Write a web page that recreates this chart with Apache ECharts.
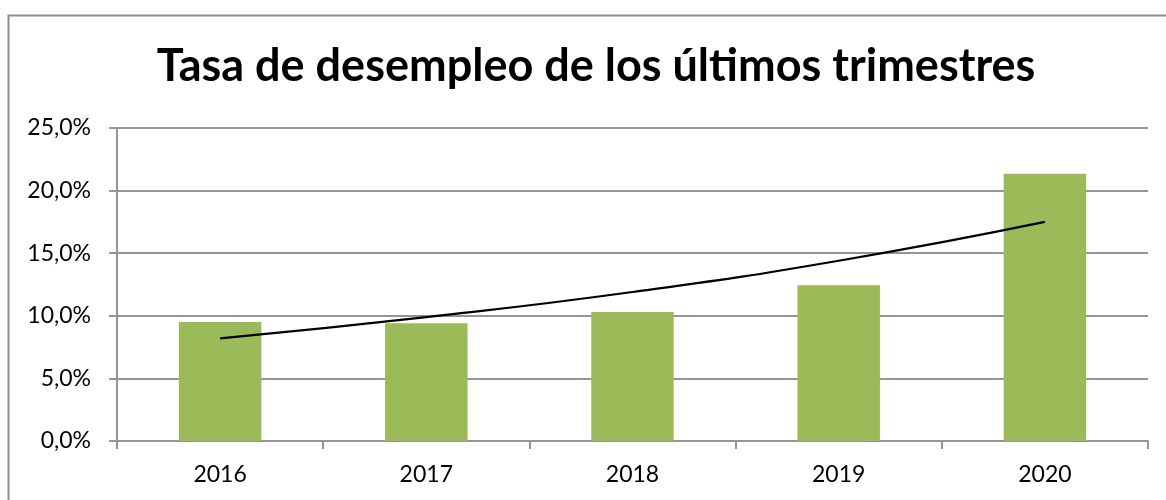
<!DOCTYPE html>
<html>
<head>
<meta charset="utf-8">
<script src="https://cdn.jsdelivr.net/npm/echarts@6/dist/echarts.min.js"></script>
<style>
html,body{margin:0;padding:0;background:#fff;}
#chart{width:1166px;height:500px;}
</style>
</head>
<body>
<div id="chart"></div>
<script>
const categories = ['2016', '2017', '2018', '2019', '2020'];
const unemployment = [9.5, 9.4, 10.3, 12.45, 21.35];
const trend = [8.2, 9.9, 11.9, 14.4, 17.5];
const titleText = 'Tasa de desempleo de los últimos trimestres';

const chart = echarts.init(document.getElementById('chart'), null, {renderer: 'canvas'});
const gridColor = '#959595';
chart.setOption({
  backgroundColor: '#ffffff',
  animation: false,
  title: {
    text: titleText,
    left: 591,
    top: 39,
    textAlign: 'center',
    textStyle: {fontFamily: 'Lato', fontWeight: 'bold', fontSize: 45, color: '#000'}
  },
  graphic: [{
    type: 'rect',
    shape: {x: 8.5, y: 15.5, width: 1200, height: 600},
    style: {fill: 'none', stroke: '#8c8c8c', lineWidth: 2},
    silent: true
  }],
  grid: {left: 117, right: 18, top: 128, bottom: 59, containLabel: false},
  xAxis: {
    type: 'category',
    data: categories,
    boundaryGap: true,
    axisLine: {show: true, lineStyle: {color: gridColor, width: 2}},
    axisTick: {show: true, alignWithLabel: false, length: 8, lineStyle: {color: gridColor, width: 2}},
    axisLabel: {fontFamily: 'Lato', fontSize: 23, color: '#000', margin: 22}
  },
  yAxis: {
    type: 'value',
    min: 0, max: 25, interval: 5,
    axisLine: {show: true, lineStyle: {color: gridColor, width: 2}},
    axisTick: {show: true, inside: false, length: 8, lineStyle: {color: gridColor, width: 2}},
    splitLine: {show: true, lineStyle: {color: gridColor, width: 2}},
    axisLabel: {
      fontFamily: 'Lato', fontSize: 23, color: '#000', margin: 26,
      formatter: v => v.toFixed(1).replace('.', ',') + '%'
    }
  },
  series: [{
    type: 'bar',
    data: unemployment,
    barWidth: '40%',
    itemStyle: {color: '#9BBB59'}
  }, {
    type: 'line',
    data: trend,
    smooth: true,
    symbol: 'none',
    lineStyle: {color: '#000', width: 2.2}
  }]
});
</script>
</body>
</html>
